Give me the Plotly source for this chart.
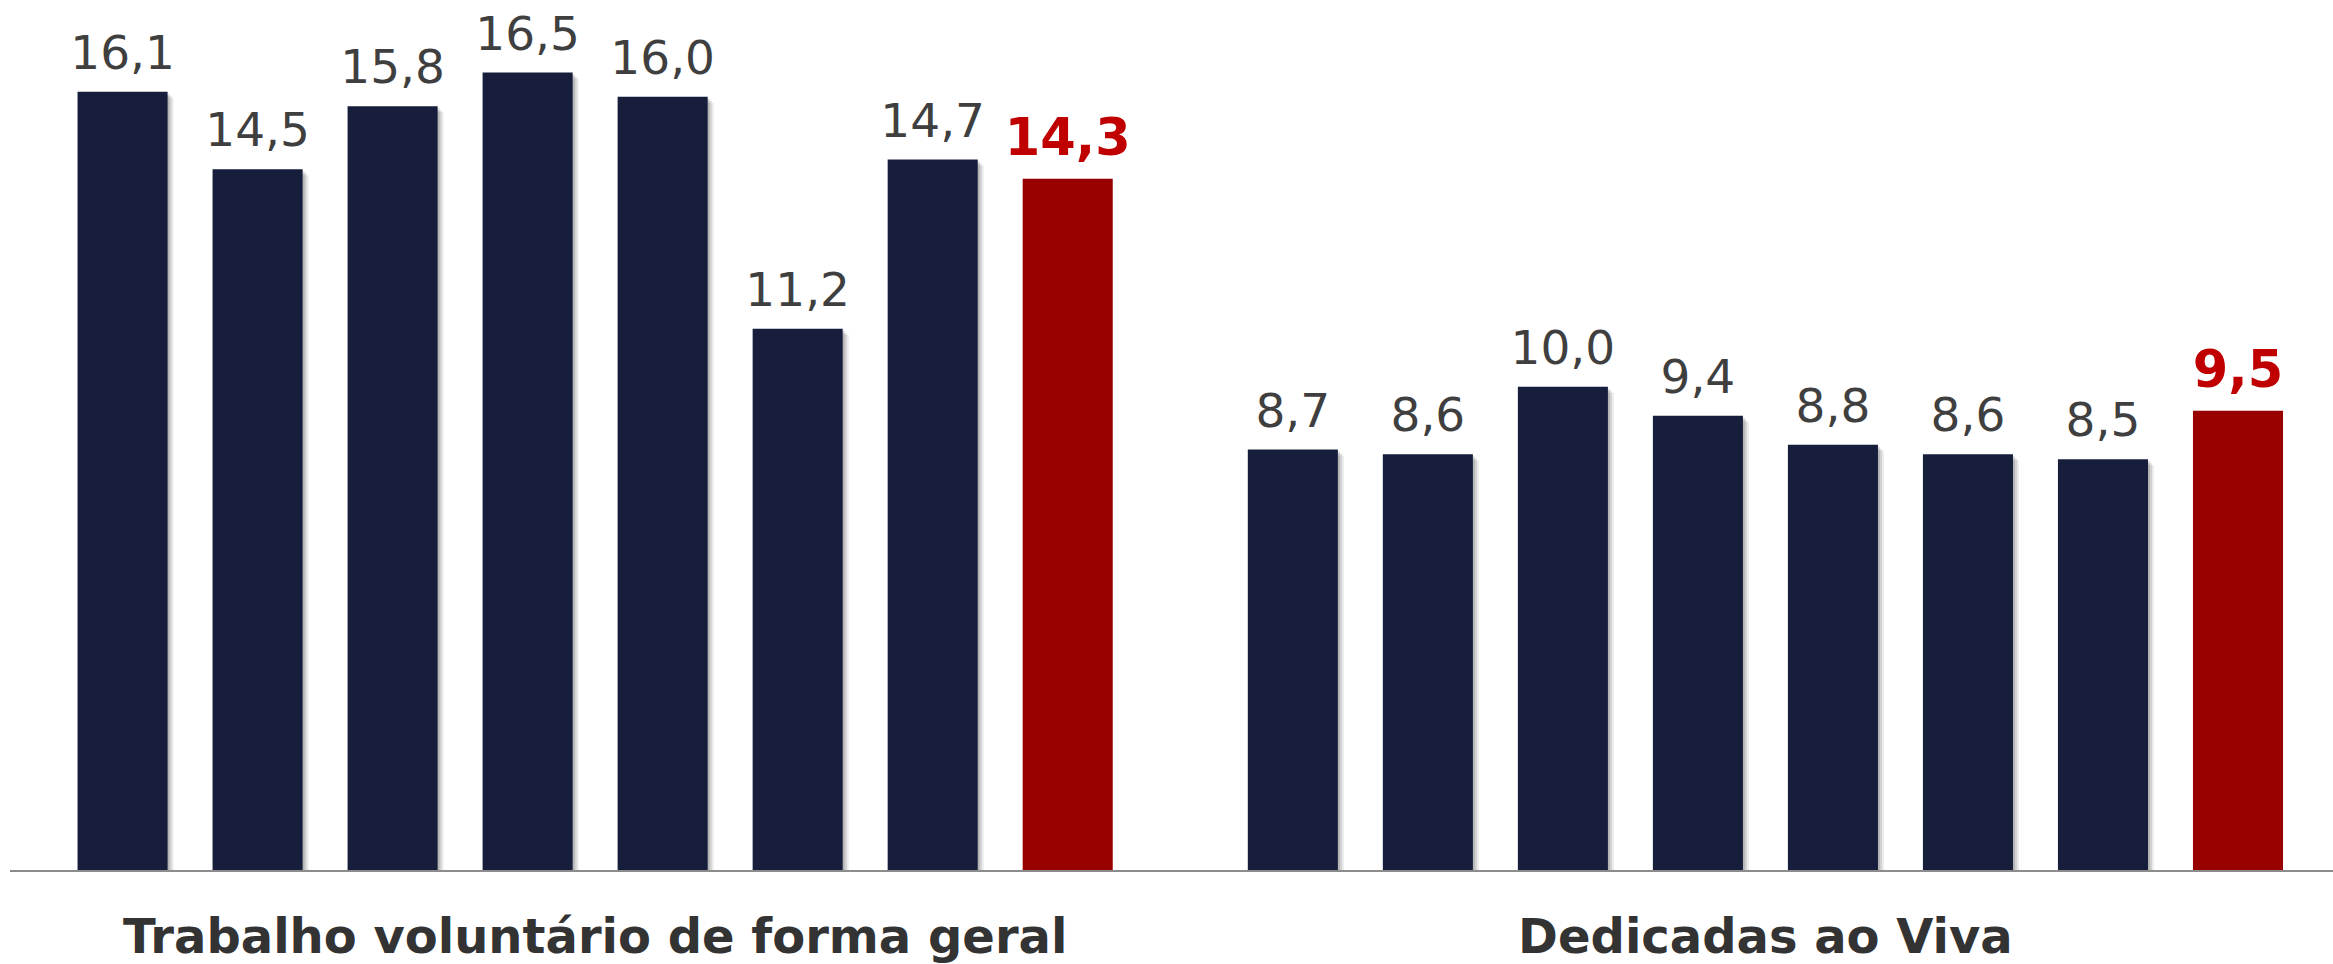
import plotly.graph_objects as go

# Categories (two groups) and the eight series shown inside each group
categorias = ["Trabalho voluntário de forma geral", "Dedicadas ao Viva"]
series = ["Série 1", "Série 2", "Série 3", "Série 4",
          "Série 5", "Série 6", "Série 7", "Série 8"]
geral = [16.1, 14.5, 15.8, 16.5, 16.0, 11.2, 14.7, 14.3]
viva = [8.7, 8.6, 10.0, 9.4, 8.8, 8.6, 8.5, 9.5]

NAVY = "#161E3C"
RED = "#990000"
LABEL_GREY = "#3F3F3F"
LABEL_RED = "#C00000"
FONT = "DejaVu Sans, Verdana, sans-serif"

W, H = 2333, 964
ML, MR, MT, MB = 10, 0, 0, 94
X_RANGE = [-0.5, 1.485]
Y_RANGE = [0, 18]
px_per_x = (W - ML - MR) / (X_RANGE[1] - X_RANGE[0])
px_per_y = (H - MT - MB) / (Y_RANGE[1] - Y_RANGE[0])

# soft drop shadow: a few offset translucent copies underneath the bars
shadow_layers = [(2, 2, 0.13), (4, 4, 0.11), (6, 6, 0.08)]
LABEL_LIFT = 9  # extra gap (px) between bar tops and value labels

fig = go.Figure()
layout_axes = {}


def axis_keys(n):
    return ("xaxis" if n == 1 else f"xaxis{n}", "yaxis" if n == 1 else f"yaxis{n}",
            "x" if n == 1 else f"x{n}", "y" if n == 1 else f"y{n}")


def hidden_axes(n, dx, dy):
    xkey, ykey, xa, ya = axis_keys(n)
    xcfg = dict(range=[X_RANGE[0] - dx / px_per_x, X_RANGE[1] - dx / px_per_x],
                visible=False, fixedrange=True, type="category", automargin=False)
    ycfg = dict(range=[Y_RANGE[0] + dy / px_per_y, Y_RANGE[1] + dy / px_per_y],
                visible=False, fixedrange=True, automargin=False)
    if n > 1:
        xcfg.update(overlaying="x", anchor=ya)
        ycfg.update(overlaying="y", anchor=xa)
    layout_axes[xkey] = xcfg
    layout_axes[ykey] = ycfg


for li, (dx, dy, alpha) in enumerate(shadow_layers):
    n = li + 1
    _, _, xa, ya = axis_keys(n)
    for i, name in enumerate(series):
        last = i == len(series) - 1
        fig.add_bar(
            x=categorias, y=[geral[i], viva[i]], name=name,
            xaxis=xa, yaxis=ya,
            marker=dict(color="rgba(0,0,0,0)" if last else f"rgba(0,0,0,{alpha})",
                        line=dict(width=0)),
            hoverinfo="skip", showlegend=False,
        )
    hidden_axes(n, dx, dy)

# main bars
m = len(shadow_layers) + 1
for i, name in enumerate(series):
    last = i == len(series) - 1
    fig.add_bar(
        x=categorias, y=[geral[i], viva[i]], name=name,
        xaxis=f"x{m}", yaxis=f"y{m}",
        marker=dict(color=RED if last else NAVY, line=dict(width=0)),
        showlegend=False,
    )

layout_axes[f"xaxis{m}"] = dict(
    range=X_RANGE, type="category", overlaying="x", anchor=f"y{m}",
    showline=True, linecolor="#8C8C8C", linewidth=2,
    ticks="", showgrid=False, zeroline=False, fixedrange=True,
    automargin=False, ticklabelstandoff=23,
    tickfont=dict(family=FONT, size=48, color="#333333", weight="bold"),
)
layout_axes[f"yaxis{m}"] = dict(
    range=Y_RANGE, overlaying="y", anchor=f"x{m}",
    visible=False, fixedrange=True, automargin=False,
)

# value labels, on a layer lifted a few pixels above the bars
t = m + 1
for i, name in enumerate(series):
    last = i == len(series) - 1
    fig.add_bar(
        x=categorias, y=[geral[i], viva[i]], name=name,
        xaxis=f"x{t}", yaxis=f"y{t}",
        marker=dict(color="rgba(0,0,0,0)", line=dict(width=0)),
        texttemplate="%{y:.1f}", textposition="outside",
        constraintext="none", cliponaxis=False,
        textfont=dict(family=FONT, size=51 if last else 47,
                      color=LABEL_RED if last else LABEL_GREY,
                      weight="bold" if last else "normal"),
        hoverinfo="skip", showlegend=False,
    )
hidden_axes(t, 0, -LABEL_LIFT)

fig.update_layout(
    width=W, height=H,
    margin=dict(l=ML, r=MR, t=MT, b=MB),
    paper_bgcolor="white", plot_bgcolor="white",
    barmode="group", bargap=0.077, bargroupgap=0.333,
    separators=",.",
    showlegend=False,
    **layout_axes,
)

fig.write_html("out.html", config={"displayModeBar": False})
